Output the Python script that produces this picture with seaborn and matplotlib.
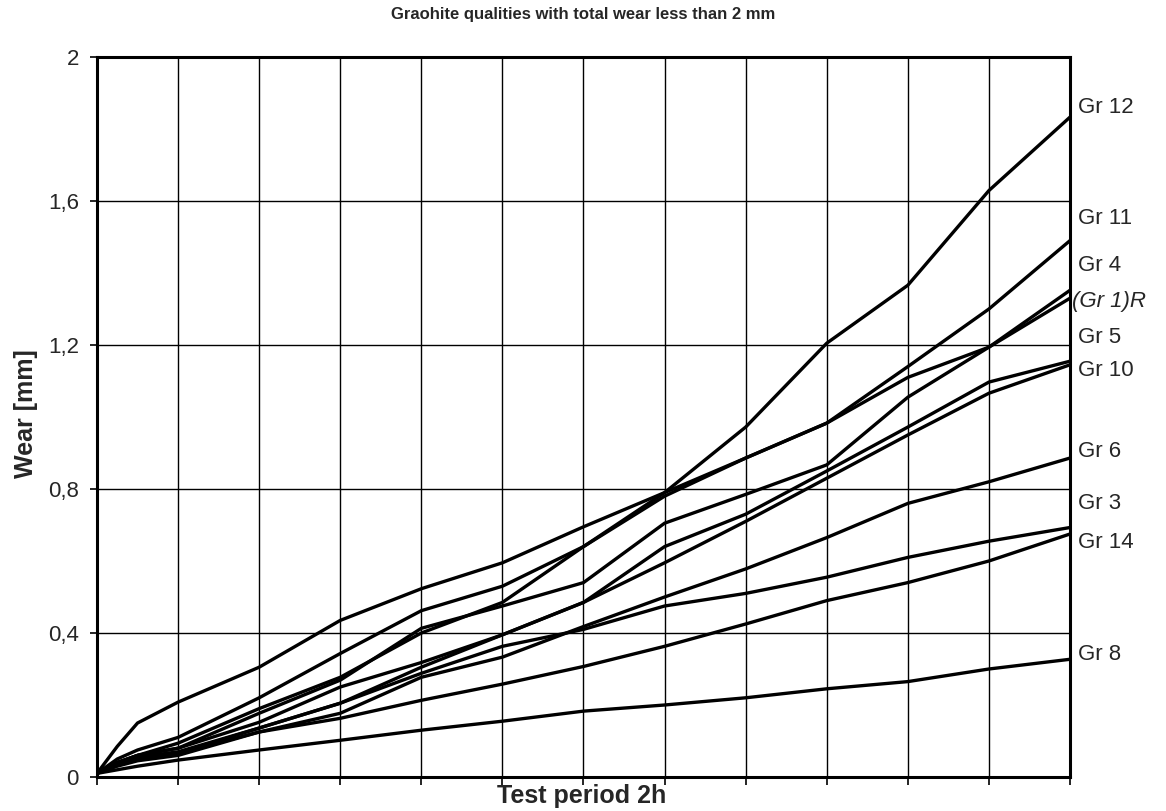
import matplotlib
matplotlib.use("Agg")
import matplotlib.pyplot as plt
import seaborn as sns
import pandas as pd

# ---- data ----
minutes = [0, 2.5, 5, 10, 20, 30, 40, 50, 60, 70, 80, 90, 100, 110, 120]

gr12 = [0.01, 0.04, 0.06, 0.094, 0.19, 0.277, 0.40, 0.485, 0.64, 0.79, 0.972, 1.205, 1.366, 1.629, 1.833]
gr11 = [0.01, 0.05, 0.075, 0.11, 0.22, 0.343, 0.462, 0.53, 0.64, 0.78, 0.886, 0.983, 1.14, 1.30, 1.49]
gr4 = [0.01, 0.085, 0.15, 0.208, 0.305, 0.435, 0.523, 0.595, 0.695, 0.79, 0.886, 0.983, 1.11, 1.194, 1.352]
gr1r = [0.01, 0.04, 0.06, 0.08, 0.177, 0.269, 0.413, 0.475, 0.54, 0.705, 0.785, 0.867, 1.055, 1.194, 1.33]
gr5 = [0.01, 0.04, 0.06, 0.08, 0.152, 0.25, 0.318, 0.395, 0.485, 0.64, 0.73, 0.85, 0.972, 1.097, 1.155]
gr10 = [0.01, 0.035, 0.05, 0.066, 0.136, 0.205, 0.305, 0.395, 0.485, 0.595, 0.71, 0.83, 0.95, 1.066, 1.145]
gr6 = [0.01, 0.035, 0.05, 0.066, 0.125, 0.177, 0.277, 0.333, 0.418, 0.50, 0.578, 0.665, 0.76, 0.82, 0.886]
gr3 = [0.01, 0.04, 0.055, 0.07, 0.136, 0.205, 0.288, 0.363, 0.41, 0.475, 0.51, 0.555, 0.61, 0.655, 0.693]
gr14 = [0.01, 0.03, 0.045, 0.06, 0.125, 0.163, 0.213, 0.258, 0.307, 0.363, 0.425, 0.49, 0.54, 0.60, 0.675]
gr8 = [0.01, 0.02, 0.03, 0.047, 0.075, 0.102, 0.13, 0.155, 0.183, 0.20, 0.22, 0.245, 0.265, 0.30, 0.327]

series_names = ["Gr 12", "Gr 11", "Gr 4", "(Gr 1)R", "Gr 5", "Gr 10", "Gr 6", "Gr 3", "Gr 14", "Gr 8"]
series_values = [gr12, gr11, gr4, gr1r, gr5, gr10, gr6, gr3, gr14, gr8]
label_y = [1.86, 1.55, 1.42, 1.32, 1.22, 1.13, 0.905, 0.76, 0.65, 0.34]

y_ticks = [0, 0.4, 0.8, 1.2, 1.6, 2.0]
y_tick_labels = ["0", "0,4", "0,8", "1,2", "1,6", "2"]
x_ticks = [0, 10, 20, 30, 40, 50, 60, 70, 80, 90, 100, 110, 120]

title = "Graohite qualities with total wear less than 2 mm"
x_label = "Test period 2h"
y_label = "Wear [mm]"

# ---- build long table ----
rows = []
for name, vals in zip(series_names, series_values):
    for m, v in zip(minutes, vals):
        rows.append({"minute": m, "wear": v, "series": name})
df = pd.DataFrame(rows)

sns.set_style("white")
plt.rcParams["font.family"] = ["Liberation Sans", "DejaVu Sans"]

fig = plt.figure(figsize=(11.66, 8.11), dpi=100)
ax = fig.add_axes([97 / 1166, 1 - 777 / 811, (1070 - 97) / 1166, (777 - 57) / 811])

sns.lineplot(data=df, x="minute", y="wear", hue="series", hue_order=series_names,
             palette=["black"] * len(series_names), linewidth=2.4, legend=False, ax=ax)

ax.set_xlim(0, 120)
ax.set_ylim(0, 2)
ax.set_xticks(x_ticks)
ax.set_xticklabels([])
ax.set_yticks(y_ticks)
ax.set_yticklabels(y_tick_labels, fontsize=16)
ax.tick_params(axis="x", direction="out", length=6, width=1.2, color="black", bottom=True)
ax.tick_params(axis="y", direction="out", length=5, width=1.2, color="black", left=True, pad=8)
ax.grid(True, color="black", linewidth=1.0)
ax.set_axisbelow(True)
for sp in ax.spines.values():
    sp.set_visible(True)
    sp.set_color("black")
    sp.set_linewidth(2.2)
ax.set_xlabel("")
ax.set_ylabel("")

for name, ly in zip(series_names, label_y):
    if name.startswith("("):
        ax.text(120.2, ly, name, fontsize=16, style="italic", va="center", ha="left", clip_on=False)
    else:
        ax.text(121.0, ly, name, fontsize=16, va="center", ha="left", clip_on=False)

fig.text(0.5, 0.982, title, fontsize=12, fontweight="bold", ha="center", va="center")
fig.text(582 / 1166, 0.018, x_label, fontsize=18, fontweight="bold", ha="center", va="center")
fig.text(0.022, 0.49, y_label, fontsize=18, fontweight="bold", ha="center", va="center", rotation=90)

fig.savefig("out.png", dpi=100)
